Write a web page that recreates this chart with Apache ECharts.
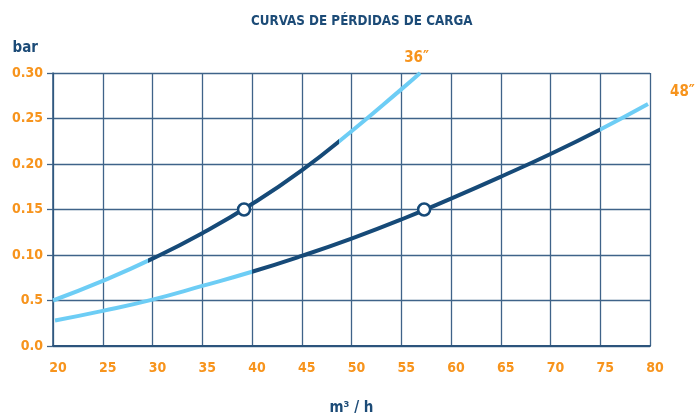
<!DOCTYPE html>
<html lang="es">
<head>
	<meta charset="UTF-8">
	<title>Curvas de pérdidas de carga</title>
	<script src="https://cdn.jsdelivr.net/npm/echarts@6/dist/echarts.min.js"></script>
	<style>
		html,body{margin:0;padding:0;background:#fff;}
	</style>
</head>
<body>
	<div id="app" style="width:697px;height:420px"></div>

	<script>
		// datos
		var xTicks36 = [20, 25, 30, 35, 40, 45, 50, 55, 56.9];
		var bar36 = [0.050, 0.0715, 0.096, 0.124, 0.156, 0.193, 0.236, 0.282, 0.300];
		var xTicks48 = [20.2, 25, 30, 35, 40, 45, 50, 55, 60, 65, 70, 75, 79.8];
		var bar48 = [0.028, 0.0386, 0.051, 0.066, 0.0816, 0.099, 0.118, 0.139, 0.162, 0.186, 0.211, 0.238, 0.266];
		var tramo36 = [29.5, 48.7];   // tramo oscuro (zona recomendada)
		var tramo48 = [40, 75];
		var punto36 = [39.2, 0.15];
		var punto48 = [57.3, 0.15];
		var yLabels = ['0.0', '0.5', '0.10', '0.15', '0.20', '0.25', '0.30'];

		var CLARO = '#6dcdf5', OSCURO = '#164a78', NARANJA = '#f7941d', AZUL = '#1c4b77';
		var FUENTE = "'Liberation Sans Narrow', 'DejaVu Sans Condensed', 'Roboto', sans-serif";

		function pares(xs, ys){
			return xs.map(function(x, i){ return [x, ys[i]]; });
		}
		function piezas(t){
			return [
				{lt: t[0], color: CLARO},
				{gte: t[0], lte: t[1], color: OSCURO},
				{gt: t[1], color: CLARO}
			];
		}

		var myChart = echarts.init(document.getElementById('app'));
		var option = {
			animation: false,
			title: {
				text: 'CURVAS DE PÉRDIDAS DE CARGA',
				left: 246,
				top: 10,
				textStyle: {color: AZUL, fontFamily: FUENTE, fontWeight: 'bold', fontSize: 13.3}
			},
			grid: {left: 53, right: 47, top: 73, bottom: 74, outerBoundsMode: 'none'},
			visualMap: [
				{type: 'piecewise', show: false, dimension: 0, seriesIndex: 0, pieces: piezas(tramo36)},
				{type: 'piecewise', show: false, dimension: 0, seriesIndex: 1, pieces: piezas(tramo48)}
			],
			xAxis: {
				type: 'value',
				min: 20, max: 80, interval: 5,
				name: 'm³ / h',
				nameLocation: 'middle',
				nameGap: 55,
				nameTextStyle: {color: AZUL, fontFamily: FUENTE, fontWeight: 'bold', fontSize: 15},
				axisLine: {show: true, lineStyle: {color: '#2c547c', width: 2}},
				axisTick: {show: false},
				axisLabel: {color: NARANJA, fontFamily: FUENTE, fontWeight: 'bold', fontSize: 14, margin: 15, padding: [0, 0, 0, 10]},
				splitLine: {show: true, lineStyle: {color: '#3f6389', width: 1.3}}
			},
			yAxis: {
				type: 'value',
				min: 0, max: 0.3, interval: 0.05,
				name: 'bar',
				nameLocation: 'end',
				nameGap: 17,
				nameTextStyle: {color: AZUL, fontFamily: FUENTE, fontWeight: 'bold', fontSize: 15, align: 'right', padding: [0, 15, 0, 0]},
				axisLine: {show: true, lineStyle: {color: '#2c547c', width: 1.5}},
				axisTick: {show: true, length: 6, lineStyle: {color: '#3f6389', width: 1.3}},
				axisLabel: {
					color: NARANJA, fontFamily: FUENTE, fontWeight: 'bold', fontSize: 14, margin: 10,
					formatter: function(v, i){ return yLabels[i]; }
				},
				splitLine: {show: true, lineStyle: {color: '#3f6389', width: 1.3}}
			},
			series: [
				{
					name: '36"',
					type: 'line',
					smooth: true,
					symbol: 'none',
					lineStyle: {width: 4},
					data: pares(xTicks36, bar36),
					endLabel: {show: true, formatter: '36″', color: NARANJA, fontFamily: FUENTE, fontWeight: 'bold', fontSize: 15, offset: [-24, -15]},
					z: 3
				},
				{
					name: '48"',
					type: 'line',
					smooth: true,
					symbol: 'none',
					lineStyle: {width: 4},
					data: pares(xTicks48, bar48),
					endLabel: {show: true, formatter: '48″', color: NARANJA, fontFamily: FUENTE, fontWeight: 'bold', fontSize: 15, offset: [14, -12]},
					z: 3
				},
				{
					type: 'scatter',
					symbol: 'circle',
					symbolSize: 12,
					itemStyle: {color: '#ffffff', opacity: 1, borderColor: OSCURO, borderWidth: 2.5},
					data: [punto36, punto48],
					z: 5
				}
			]
		};
		myChart.setOption(option);
	</script>
</body>
</html>
